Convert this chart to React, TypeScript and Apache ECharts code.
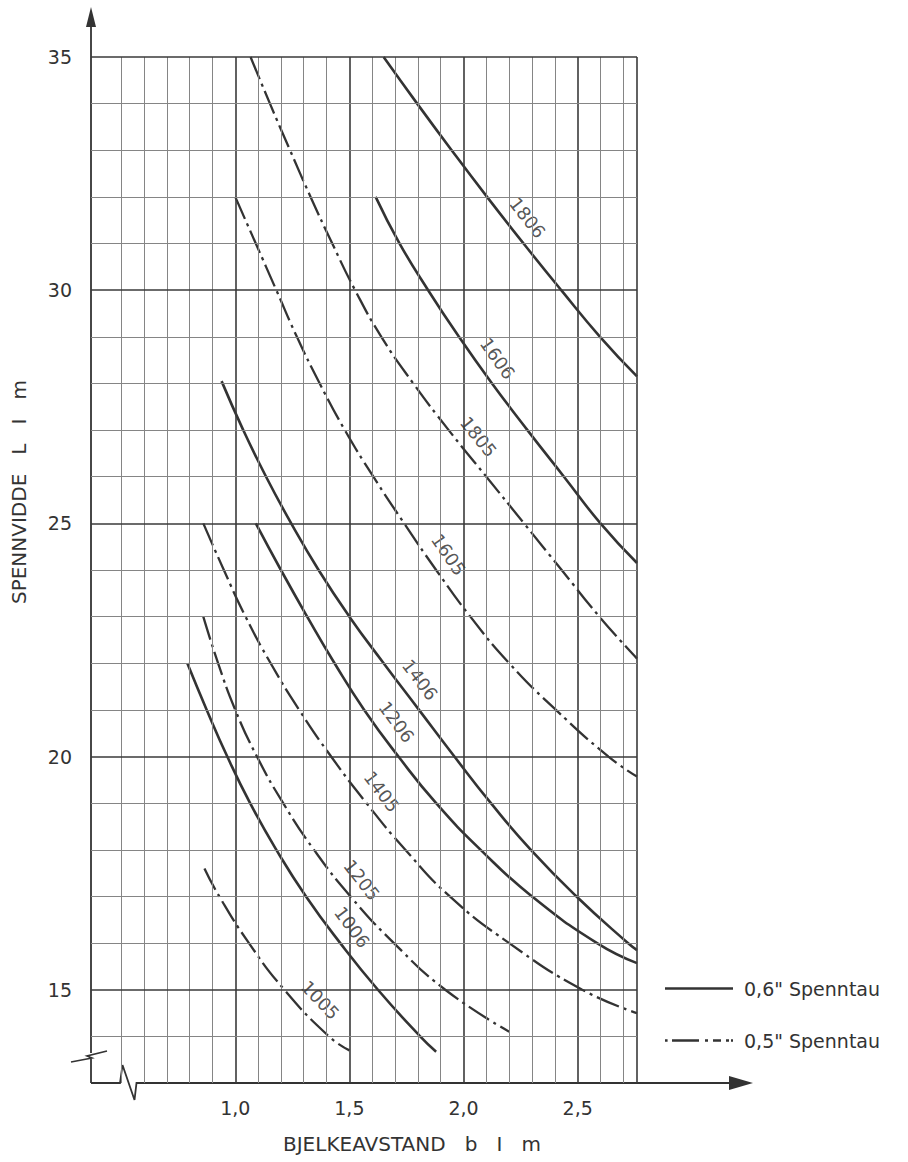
import { useEffect, useRef } from "react";
import * as echarts from "echarts";

const FONT = "'DejaVu Sans', 'Noto Sans', sans-serif";
const INK = "#333333";

const X_MIN = 0.368;
const X_MAX = 2.76;
const Y_MIN = 13;
const Y_MAX = 35;

const xTickLabels = [1.0, 1.5, 2.0, 2.5];
const yTickLabels = [15, 20, 25, 30, 35];
const xGridLines = [0.5, 0.6, 0.7, 0.8, 0.9, 1.0, 1.1, 1.2, 1.3, 1.4, 1.5, 1.6, 1.7, 1.8, 1.9, 2.0, 2.1, 2.2, 2.3, 2.4, 2.5, 2.6, 2.7];
const xMajorLines = [1.0, 1.5, 2.0, 2.5];
const yGridLines = [14, 15, 16, 17, 18, 19, 20, 21, 22, 23, 24, 25, 26, 27, 28, 29, 30, 31, 32, 33, 34, 35];
const yMajorLines = [15, 20, 25, 30, 35];

const curve1806 = [[1.65, 35], [1.797, 34], [1.948, 33], [2.103, 32], [2.263, 31], [2.428, 30], [2.598, 29], [2.76, 28.15]];
const curve1606 = [[1.615, 32], [1.72, 31], [1.845, 30], [1.98, 29], [2.125, 28], [2.28, 27], [2.44, 26], [2.6, 25], [2.76, 24.15]];
const curve1805 = [[1.067, 35], [1.152, 34], [1.24, 33], [1.33, 32], [1.425, 31], [1.525, 30], [1.64, 29], [1.78, 28], [1.935, 27], [2.1, 26], [2.265, 25], [2.43, 24], [2.595, 23], [2.76, 22.1]];
const curve1605 = [[1.0, 32], [1.09, 31], [1.18, 30], [1.27, 29], [1.37, 28], [1.48, 27], [1.605, 26], [1.74, 25], [1.88, 24], [2.03, 23], [2.2, 22], [2.405, 21], [2.635, 20], [2.76, 19.57]];
const curve1406 = [[0.94, 28.05], [1.035, 27], [1.135, 26], [1.245, 25], [1.365, 24], [1.5, 23], [1.65, 22], [1.805, 21], [1.96, 20], [2.12, 19], [2.295, 18], [2.495, 17], [2.72, 16], [2.76, 15.85]];
const curve1206 = [[1.09, 25], [1.2, 24], [1.315, 23], [1.435, 22], [1.565, 21], [1.715, 20], [1.88, 19], [2.075, 18], [2.3, 17], [2.585, 16], [2.76, 15.57]];
const curve1405 = [[0.86, 25], [0.95, 24], [1.045, 23], [1.155, 22], [1.28, 21], [1.42, 20], [1.575, 19], [1.745, 18], [1.94, 17], [2.2, 16], [2.52, 15], [2.76, 14.5]];
const curve1205 = [[0.86, 23], [0.925, 22], [1.0, 21], [1.095, 20], [1.21, 19], [1.345, 18], [1.505, 17], [1.695, 16], [1.92, 15], [2.2, 14.1]];
const curve1006 = [[0.79, 22], [0.875, 21], [0.965, 20], [1.065, 19], [1.18, 18], [1.31, 17], [1.46, 16], [1.625, 15], [1.81, 14], [1.88, 13.67]];
const curve1005 = [[0.865, 17.6], [0.93, 17], [1.06, 16], [1.215, 15], [1.41, 14], [1.5, 13.7]];

const curveNames = ["1806", "1606", "1805", "1605", "1406", "1206", "1405", "1205", "1006", "1005"];
const curveData = [curve1806, curve1606, curve1805, curve1605, curve1406, curve1206, curve1405, curve1205, curve1006, curve1005];
const curveStrand = ["0,6", "0,6", "0,5", "0,5", "0,6", "0,6", "0,5", "0,5", "0,6", "0,5"];
const labelAtY = [31.3, 28.3, 26.6, 24.1, 21.4, 20.5, 19.0, 17.1, 16.1, 14.5];

const legendNames = ['0,6" Spenntau', '0,5" Spenntau'];
const legendIcons = [
  "path://M0 0H68V2.6H0Z",
  "path://M0 0H2.6V2.6H0Z M7 0H34V2.6H7Z M40 0H43V2.6H40Z M48 0H56V2.6H48Z M61 0H64V2.6H61Z M66 0H68V2.6H66Z",
];

const W = 908;
const H = 1162;
const GRID = { left: 91, right: 271, top: 57, bottom: 79 };
const GRID_W = W - GRID.left - GRID.right;
const GRID_H = H - GRID.top - GRID.bottom;
const PX_X = GRID_W / (X_MAX - X_MIN);
const PX_Y = GRID_H / (Y_MAX - Y_MIN);
const LABEL_OFF = 19;

const isIn = (v: number, arr: number[]) => arr.some((m) => Math.abs(m - v) < 1e-6);

function labelPlacement(data: number[][], y: number) {
  for (let i = 0; i < data.length - 1; i++) {
    const [x1, y1] = data[i];
    const [x2, y2] = data[i + 1];
    if ((y <= y1 && y >= y2) || i === data.length - 2) {
      const t = (y1 - y) / (y1 - y2);
      const x = x1 + t * (x2 - x1);
      const dxp = (x2 - x1) * PX_X;
      const dyp = (y1 - y2) * PX_Y;
      const len = Math.hypot(dxp, dyp);
      const ux = dxp / len;
      const uy = dyp / len;
      const angle = (Math.atan2(-dyp, dxp) * 180) / Math.PI;
      return {
        x: x + (LABEL_OFF * uy) / PX_X,
        y: y + (LABEL_OFF * ux) / PX_Y,
        angle,
      };
    }
  }
  return { x: data[0][0], y, angle: -50 };
}

export default function App() {
  const ref = useRef<HTMLDivElement>(null);

  useEffect(() => {
    if (!ref.current) return;
    const chart = echarts.init(ref.current, undefined, { renderer: "svg" });

    const major = { color: "#3a3a3a", width: 1.6, type: "solid" };
    const minor = { color: "#858585", width: 1, type: "solid" };
    const gridMarks = [
      ...xGridLines.map((v) => ({ xAxis: v, lineStyle: isIn(v, xMajorLines) ? major : minor })),
      { xAxis: X_MAX, lineStyle: major },
      ...yGridLines.map((v) => ({ yAxis: v, lineStyle: isIn(v, yMajorLines) ? major : minor })),
    ];

    const curveSeries = curveData.map((data, i) => ({
      type: "line",
      name: curveStrand[i] === "0,6" ? legendNames[0] : legendNames[1],
      data,
      symbol: "none",
      showSymbol: false,
      smooth: 0.5,
      silent: true,
      z: 4,
      color: INK,
      lineStyle: {
        color: INK,
        width: curveStrand[i] === "0,6" ? 2.6 : 2.3,
        type: curveStrand[i] === "0,6" ? "solid" : [24, 5, 3, 5],
      },
    }));

    const labelData = curveNames.map((name, i) => {
      const p = labelPlacement(curveData[i], labelAtY[i]);
      return {
        name,
        value: [p.x, p.y],
        label: {
          show: true,
          rotate: p.angle,
          position: "inside",
          formatter: name,
          color: "#2a2a2a",
          fontFamily: FONT,
          fontSize: 18,
          backgroundColor: "#ffffff",
          padding: [5, 10],
        },
      };
    });

    const option: any = {
      animation: false,
      backgroundColor: "#ffffff",
      grid: { ...GRID, containLabel: false },
      xAxis: {
        type: "value",
        min: X_MIN,
        max: X_MAX,
        axisLine: { show: false },
        axisTick: { show: false },
        splitLine: { show: false },
        axisLabel: {
          customValues: xTickLabels,
          formatter: (v: number) => v.toFixed(1).replace(".", ","),
          color: INK,
          fontFamily: FONT,
          fontSize: 19,
          margin: 15,
        },
      },
      yAxis: {
        type: "value",
        min: Y_MIN,
        max: Y_MAX,
        interval: 1,
        axisLine: { show: false },
        axisTick: { show: false },
        splitLine: { show: false },
        axisLabel: {
          formatter: (v: number) => (isIn(v, yTickLabels) ? String(v) : ""),
          color: INK,
          fontFamily: FONT,
          fontSize: 19,
          margin: 19,
        },
      },
      legend: {
        data: legendNames.map((name, i) => ({ name, icon: legendIcons[i] })),
        orient: "vertical",
        left: 660,
        top: 974,
        itemWidth: 68,
        itemHeight: 20,
        itemGap: 33,
        selectedMode: false,
        itemStyle: { color: INK },
        textStyle: { color: INK, fontFamily: FONT, fontSize: 19, padding: [0, 0, 0, 6] },
      },
      graphic: [
        { type: "line", shape: { x1: 91, y1: 24, x2: 91, y2: 1053 }, style: { stroke: INK, lineWidth: 1.8 } },
        { type: "line", shape: { x1: 91, y1: 1059, x2: 91, y2: 1083 }, style: { stroke: INK, lineWidth: 1.8 } },
        { type: "polygon", shape: { points: [[86, 27], [96, 27], [91, 7]] }, style: { fill: INK } },
        {
          type: "polyline",
          shape: { points: [[71, 1062], [92, 1058], [87, 1056], [107, 1051]] },
          style: { stroke: INK, lineWidth: 1.6, fill: "none" },
        },
        {
          type: "polyline",
          shape: { points: [[91, 1083], [120, 1083], [122.5, 1065], [134.5, 1100], [136.5, 1083], [735, 1083]] },
          style: { stroke: INK, lineWidth: 1.8, fill: "none" },
        },
        { type: "polygon", shape: { points: [[729, 1076], [729, 1090], [753, 1083]] }, style: { fill: INK } },
        {
          type: "text",
          left: 283,
          top: 1134,
          style: { text: "BJELKEAVSTAND   b   I   m", fill: INK, fontFamily: FONT, fontSize: 20 },
        },
        {
          type: "text",
          x: 19,
          y: 492,
          rotation: Math.PI / 2,
          style: {
            text: "SPENNVIDDE   L   I   m",
            fill: INK,
            fontFamily: FONT,
            fontSize: 20,
            textAlign: "center",
            textVerticalAlign: "middle",
          },
        },
      ],
      series: [
        {
          type: "line",
          name: "grid",
          data: [],
          silent: true,
          z: 1,
          markLine: {
            silent: true,
            symbol: ["none", "none"],
            label: { show: false },
            animation: false,
            data: gridMarks,
          },
        },
        {
          type: "scatter",
          name: "labels",
          data: labelData,
          symbolSize: 1,
          silent: true,
          z: 3,
          itemStyle: { color: "rgba(255,255,255,0)" },
          labelLayout: { hideOverlap: false },
        },
        ...curveSeries,
      ],
    };

    chart.setOption(option);
    return () => chart.dispose();
  }, []);

  return (
    <div
      ref={ref}
      style={{ position: "absolute", left: 0, top: 0, width: W, height: H, background: "#fff" }}
    />
  );
}
